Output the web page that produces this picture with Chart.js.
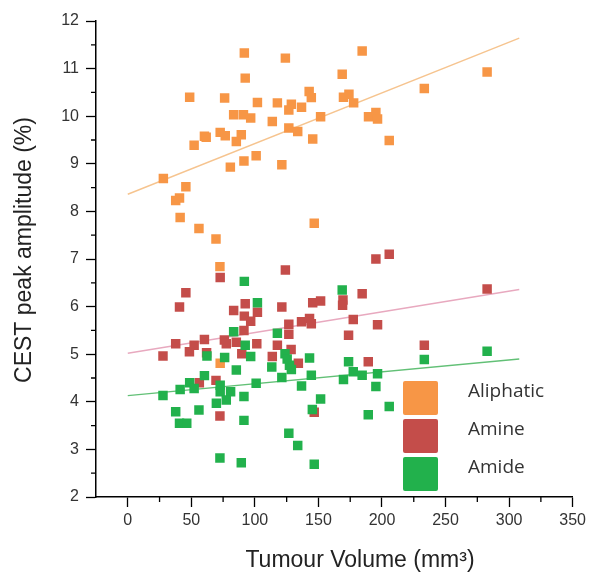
<!DOCTYPE html>
<html>
<head>
<meta charset="utf-8">
<title>CEST peak amplitude vs tumour volume</title>
<script src="https://cdn.jsdelivr.net/npm/chart.js@4.4.1/dist/chart.umd.min.js"></script>
<style>
  body { margin: 0; background: #fff; }
  canvas { display: block; }
</style>
</head>
<body>
<canvas id="cestChart" width="590" height="573"></canvas>
<script>
// values: tumour volume (mm3) / CEST amplitude (%)
const aliphaticVol = [91.7, 124, 92.4, 168.7, 48.7, 76.2, 102, 117.7, 128.7, 126.7, 136.7, 142.7, 144.4, 169.7, 174,
  83.3, 91, 96.7, 113.7, 151.7, 126.7, 133.7, 145.5, 72.7, 76.7, 89.3, 85.4, 60.3, 61.7, 52.2, 101, 91.4, 80.7, 121.2,
  28, 45.7, 37.7, 40.7, 41.2, 56, 69.4, 146.7, 184.4, 177.7, 189.4, 195.2, 196.5, 205.7, 233.3, 282.7, 72.5, 72.7];
const aliphaticAmp = [11.33, 11.22, 10.80, 10.88, 10.40, 10.38, 10.29, 10.28, 10.25, 10.13, 10.19, 10.52, 10.39, 10.40, 10.46,
  10.03, 10.03, 9.96, 9.89, 9.99, 9.75, 9.68, 9.52, 9.66, 9.59, 9.61, 9.47, 9.58, 9.56, 9.39, 9.17, 9.06, 8.93, 8.98,
  8.69, 8.52, 8.23, 8.28, 7.87, 7.64, 7.42, 7.75, 11.37, 10.28, 9.99, 10.08, 9.94, 9.49, 10.58, 10.93, 6.84, 4.81];

const amineVol = [72.7, 124, 45.7, 40.7, 92.4, 83.3, 102, 91.7, 96.7, 121.2, 145.5, 151.7, 169.3, 169, 91.4, 126.7,
  126.7, 136.7, 143, 144.4, 37.7, 52.2, 60.3, 48.5, 27.7, 62, 76, 77.5, 85.4, 101.5, 117.7, 89.7, 113.7, 128.5, 134.2,
  69.4, 56.3, 72.5, 146.7, 173.7, 184.4, 177.4, 196.5, 195.2, 205.7, 282.7, 233.3, 189.2];
const amineAmp = [6.61, 6.77, 6.29, 5.99, 6.06, 5.92, 5.88, 5.80, 5.69, 5.99, 6.08, 6.12, 6.14, 6.03, 5.50, 5.63,
  5.42, 5.68, 5.75, 5.64, 5.22, 5.19, 5.31, 5.05, 4.96, 5.03, 5.30, 5.22, 5.25, 5.22, 5.19, 5.01, 4.95, 5.10, 4.81,
  4.45, 4.40, 3.70, 3.78, 5.40, 6.27, 5.73, 5.62, 7.00, 7.10, 6.37, 5.19, 4.84];

const amideVol = [91.7, 102, 168.7, 83.3, 117.7, 92.4, 62.3, 76.2, 96.7, 123.7, 125.4, 143, 85.4, 113.3, 128.7, 127.2,
  173.7, 60.3, 121.2, 144.4, 169.7, 48.7, 52.2, 41.2, 101, 136.7, 72.7, 72.7, 80.9, 27.7, 91.4, 77.5, 69.7, 151.7,
  56, 37.7, 145.2, 40.7, 46.4, 91.4, 126.7, 133.7, 72.5, 89.3, 146.7, 177.4, 184.4, 196.5, 195.2, 205.7, 189.2, 233.3, 282.7];
const amideAmp = [6.53, 6.08, 6.35, 5.47, 5.44, 5.19, 4.96, 4.93, 4.95, 5.01, 4.90, 4.92, 4.67, 4.73, 4.68, 4.77,
  4.84, 4.55, 4.51, 4.56, 4.47, 4.40, 4.28, 4.26, 4.39, 4.33, 4.35, 4.21, 4.21, 4.13, 4.11, 4.04, 3.97, 4.06,
  3.83, 3.79, 3.84, 3.55, 3.55, 3.61, 3.34, 3.08, 2.82, 2.72, 2.69, 4.63, 4.56, 4.59, 4.32, 3.90, 3.73, 4.89, 5.06];

// linear fit lines (end points)
const fitVol = [0, 308];
const aliphaticFit = [8.36, 11.64];
const amineFit = [5.02, 6.36];
const amideFit = [4.13, 4.90];

const seriesNames = ['Aliphatic', 'Amine', 'Amide'];
const xTicks = [0, 50, 100, 150, 200, 250, 300, 350];
const yTicks = [2, 3, 4, 5, 6, 7, 8, 9, 10, 11, 12];

const colors = ['#f79646', '#c44d4a', '#22b14c'];
const fitColors = ['#f6c48f', '#e8a9bf', '#62c076'];
const axisFont = 'Liberation Sans, Arial, sans-serif';

function toPoints(xs, ys) {
  return xs.map((x, i) => ({ x: x, y: ys[i] }));
}

function pointSet(i, xs, ys, order) {
  return {
    label: seriesNames[i],
    data: toPoints(xs, ys),
    backgroundColor: colors[i],
    pointStyle: 'rect',
    pointRadius: 6.7,
    pointBorderWidth: 0,
    order: order
  };
}

function fitSet(i, ys) {
  return {
    label: seriesNames[i] + ' fit',
    data: toPoints(fitVol, ys),
    showLine: true,
    borderColor: fitColors[i],
    borderWidth: 1.4,
    pointRadius: 0,
    order: 5 + i
  };
}

// minor ticks (x every 25, y every 0.5) drawn from the scales
const minorTicks = {
  id: 'minorTicks',
  afterDraw(chart) {
    const ctx = chart.ctx;
    const area = chart.chartArea;
    const x = chart.scales.x, y = chart.scales.y;
    ctx.save();
    ctx.strokeStyle = '#000';
    ctx.lineWidth = 1.3;
    ctx.beginPath();
    for (let i = 0; i < xTicks.length - 1; i++) {
      const px = x.getPixelForValue((xTicks[i] + xTicks[i + 1]) / 2);
      ctx.moveTo(px, area.bottom);
      ctx.lineTo(px, area.bottom + 5);
    }
    for (let i = 0; i < yTicks.length - 1; i++) {
      const py = y.getPixelForValue((yTicks[i] + yTicks[i + 1]) / 2);
      ctx.moveTo(area.left - 5, py);
      ctx.lineTo(area.left, py);
    }
    ctx.stroke();
    ctx.restore();
  }
};

// axis titles
const axisTitles = {
  id: 'axisTitles',
  afterDraw(chart) {
    const ctx = chart.ctx;
    ctx.save();
    ctx.fillStyle = '#222';
    ctx.font = '23px ' + axisFont;
    ctx.textAlign = 'center';
    ctx.textBaseline = 'middle';
    ctx.fillText('Tumour Volume (mm\u00b3)', 360, 561);
    ctx.translate(25, 250);
    ctx.rotate(-Math.PI / 2);
    ctx.fillText('CEST peak amplitude (%)', 0, 0);
    ctx.restore();
  }
};

// legend boxes in the lower right corner
const boxLegend = {
  id: 'boxLegend',
  afterDatasetsDraw(chart) {
    const ctx = chart.ctx;
    ctx.save();
    ctx.font = '19px "Open Sans", sans-serif';
    ctx.textBaseline = 'alphabetic';
    seriesNames.forEach((name, i) => {
      const top = 381 + i * 38;
      ctx.fillStyle = colors[i];
      ctx.beginPath();
      ctx.roundRect(403, top, 35, 34, 2);
      ctx.fill();
      ctx.fillStyle = '#333';
      ctx.fillText(name, 468, top + 16);
    });
    ctx.restore();
  }
};

document.addEventListener('DOMContentLoaded', function() {
  const ctx = document.getElementById('cestChart').getContext('2d');

  new Chart(ctx, {
    type: 'scatter',
    data: {
      datasets: [
        pointSet(2, amideVol, amideAmp, 0),
        pointSet(1, amineVol, amineAmp, 1),
        pointSet(0, aliphaticVol, aliphaticAmp, 2),
        fitSet(0, aliphaticFit),
        fitSet(1, amineFit),
        fitSet(2, amideFit)
      ]
    },
    options: {
      responsive: false,
      animation: false,
      devicePixelRatio: 1,
      layout: { padding: { top: 21, right: 16, left: 0, bottom: 0 } },
      plugins: {
        legend: { display: false },
        tooltip: { enabled: false }
      },
      scales: {
        x: {
          type: 'linear',
          min: -25,
          max: 350,
          afterBuildTicks: function(scale) {
            scale.ticks = xTicks.map(v => ({ value: v }));
          },
          afterFit: function(scale) { scale.height = 76; },
          grid: { drawOnChartArea: false, tickLength: 10, tickWidth: 1.3, tickColor: '#000' },
          border: { color: '#000', width: 1.5 },
          ticks: {
            color: '#333',
            font: { family: axisFont, size: 16 },
            padding: 4,
            autoSkip: false,
            maxRotation: 0
          }
        },
        y: {
          type: 'linear',
          min: 2,
          max: 12,
          afterBuildTicks: function(scale) {
            scale.ticks = yTicks.map(v => ({ value: v }));
          },
          afterFit: function(scale) { scale.width = 96; },
          grid: { drawOnChartArea: false, tickLength: 10, tickWidth: 1.3, tickColor: '#000' },
          border: { color: '#000', width: 1.5 },
          ticks: {
            color: '#333',
            font: { family: axisFont, size: 16 },
            padding: 7
          }
        }
      }
    },
    plugins: [minorTicks, axisTitles, boxLegend]
  });
});
</script>
</body>
</html>
